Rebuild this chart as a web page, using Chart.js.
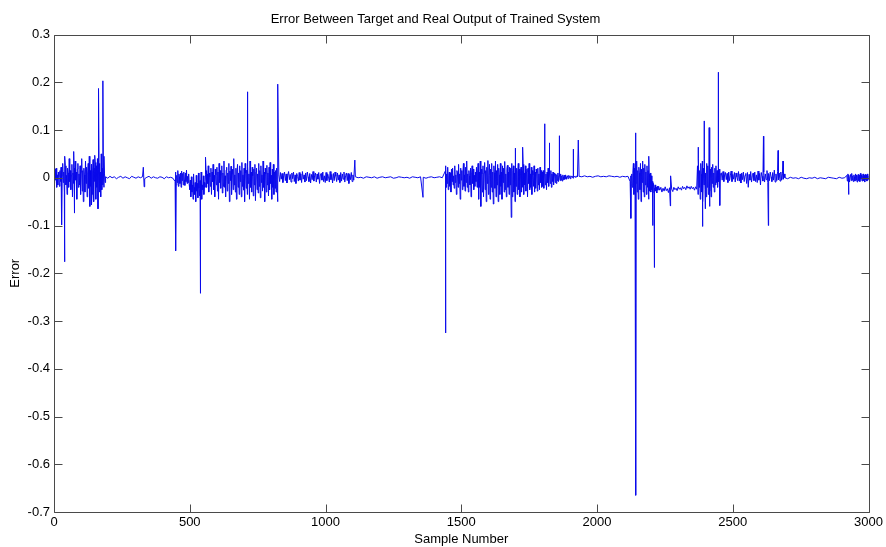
<!DOCTYPE html>
<html>
<head>
<meta charset="utf-8">
<script src="https://cdn.jsdelivr.net/npm/chart.js@4.4.1/dist/chart.umd.min.js"></script>
<style>
  html, body { margin: 0; padding: 0; background: #fff; }
  #wrap { width: 886px; height: 547px; }
</style>
</head>
<body>
<div id="wrap"><canvas id="c" width="886" height="547"></canvas></div>
<script>
// Axis ticks
const xTicks = [0, 500, 1000, 1500, 2000, 2500, 3000];
const yTicks = [0.3, 0.2, 0.1, 0, -0.1, -0.2, -0.3, -0.4, -0.5, -0.6, -0.7];

// Error trace, stretch by stretch: [first sample, sample spacing, values]
const burstA = [0.01,-0.012,0.018,-0.005,0.02,-0.02,0.006,-0.015,0.012,0.002,-0.018,0.015,-0.008,0.022,-0.025,0.004,
  0.03,-0.01,0.012,-0.03,0.008,0.025,-0.015,0.005,-0.035,0.02,0.01,-0.02,0.04,-0.008,0.015,-0.025,
  0.006,0.028,-0.04,0.01,-0.012,0.02,-0.03,0.035,-0.005,0.012,-0.045,0.018,0.03,-0.02,0.008,-0.015,
  0.025,-0.035,0.012,0.04,-0.028,0.015,-0.05,0.02,0.006,-0.03,0.035,-0.012,0.022,-0.04,0.01,0.03,
  -0.022,0.045,-0.06,0.015,-0.018,0.028,-0.035,0.012,0.038,-0.05,0.02,-0.008,0.032,-0.045,0.025,-0.02,
  0.04,-0.065,0.018,0.03,-0.03,0.012,-0.04,0.05,-0.025,0.02,-0.015,0.01,-0.02,0.008,-0.01];
const quietA = [0.002,-0.001,0.003,0,0.002,-0.002,0.001,0.003,-0.001,0.002,0,-0.002,0.003,0.001,-0.001,0.002,0,0.002,-0.002,0.001,0.003,-0.001,0.002,0,-0.001,0.002,0.001,-0.002,0.002,0,0.001,-0.001];
const burstB = [-0.008,0.012,-0.015,0.005,-0.01,0.015,-0.018,0.008,0.002,-0.012,0.01,-0.02,0.014,-0.006,0.009,-0.015,0.012,-0.004,-0.016,0.01,-0.008,0.016,-0.012,0.003,-0.01,0.008,-0.014,
  -0.025,-0.005,-0.04,0.002,-0.03,-0.015,-0.045,0.008,-0.02,-0.035,-0.01,-0.05,0.005,-0.028,-0.012,-0.042,0.01,-0.022,-0.038,-0.006,-0.03,0.012,-0.045,-0.015,-0.025,0.004,-0.035,-0.01,-0.02,0.006,
  0.015,-0.02,0.008,-0.012,0.025,-0.03,0.01,0.002,-0.018,0.02,-0.035,0.012,-0.008,0.028,-0.025,0.005,
  -0.04,0.018,0.006,-0.015,0.022,-0.028,0.012,-0.045,0.03,-0.01,0.015,-0.022,0.008,0.025,-0.032,0.01,
  -0.018,0.035,-0.02,0.004,-0.04,0.016,0.022,-0.028,0.01,-0.012,0.03,-0.05,0.014,-0.006,0.024,-0.035,
  0.008,0.018,-0.025,0.04,-0.015,0.006,-0.03,0.02,-0.045,0.012,0.028,-0.02,0.01,-0.035,0.025,-0.008,
  0.015,-0.04,0.032,-0.018,0.006,-0.026,0.02,-0.05,0.03,0.01,-0.022,0.016,-0.035,0.024,-0.012,0.008,
  -0.045,0.035,-0.02,0.012,-0.03,0.022,0.004,-0.038,0.018,-0.015,0.028,-0.048,0.012,0.02,-0.025,0.008,
  -0.032,0.03,-0.018,0.015,-0.042,0.025,-0.01,0.006,-0.028,0.035,-0.02,0.012,-0.05,0.02,0.008,-0.03,
  0.026,-0.015,0.01,-0.038,0.022,-0.025,0.032,-0.012,0.005,-0.045,0.018,-0.02,0.028,-0.035,0.012,-0.022,
  0.015,-0.03,0.02,-0.015,0.01];
const burstC = [0.006,-0.008,0.011,-0.003,0.009,-0.01,0.004,0.012,-0.006,0.008,-0.011,0.005,0.013,-0.004,0.007,-0.009,
  0.01,-0.002,0.012,-0.008,0.006,-0.012,0.009,0.003,-0.007,0.011,-0.005,0.008,-0.01,0.013,-0.003,0.006,
  -0.009,0.01,-0.006,0.012,0.002,-0.008,0.009,-0.011,0.007,-0.004,0.013,-0.007,0.005,0.01,-0.009,0.008,
  -0.003,0.011,-0.012,0.006,0.009,-0.005,0.012,-0.008,0.004,-0.01,0.011,-0.006,0.008,0.002,-0.009,0.013,
  -0.004,0.007,-0.011,0.009,-0.006,0.012,0.003,-0.008,0.01,-0.005,0.006,-0.01,0.011,-0.007,0.008,-0.003,
  0.012,-0.009,0.005,0.01,-0.006,0.009,-0.012,0.007,-0.004,0.011,-0.008,0.006,-0.005];
const quietB = [0.002,0,0.001,-0.001,0.002,0.001,0,0.002,-0.001,0.001,0.002,0,0.001,0.002,-0.001,0,0.002,0.001,0,0.001,-0.001,0.002,0.001,0,0.002,0.001,-0.001,0.001,0.002,0,0.001,0.002,0];
const burstD = [0.015,-0.02,0.008,-0.012,0.022,-0.025,0.005,0.012,-0.018,0.01,-0.03,0.018,-0.008,0.02,-0.015,0.004,
  -0.022,0.025,-0.01,0.006,-0.035,0.015,0.01,-0.02,0.028,-0.012,0.008,-0.045,0.02,-0.005,0.015,-0.025,
  0.012,0.03,-0.018,0.006,-0.028,0.022,-0.01,0.035,-0.02,0.008,-0.03,0.015,0.004,-0.015,0.02,-0.04,
  0.01,0.025,-0.012,0.018,-0.025,0.005,-0.018,0.012,-0.008,0.022,-0.02,0.01,
  0.03,-0.045,0.012,-0.02,0.035,-0.06,0.018,0.008,-0.03,0.025,-0.04,0.01,0.032,-0.025,0.015,-0.05,
  0.022,-0.012,0.036,-0.035,0.005,0.028,-0.045,0.018,-0.02,0.03,-0.03,0.012,-0.055,0.025,0.01,-0.022,
  0.035,-0.04,0.015,-0.015,0.028,-0.05,0.02,0.006,-0.035,0.03,-0.018,0.012,-0.045,0.025,-0.01,0.02,
  -0.03,0.034,-0.025,0.008,-0.04,0.018,0.026,-0.02,0.012,-0.035,0.022,-0.015,
  0.02,-0.083,0.03,-0.04,0.015,0.025,-0.03,0.01,-0.05,0.028,-0.018,0.02,-0.035,0.012,0.03,-0.025,
  0.018,-0.04,0.008,0.022,-0.03,0.015,-0.02,0.028,-0.035,0.01,-0.015,0.025,-0.028,0.012,0.018,-0.04,
  0.02,-0.012,0.03,-0.025,0.008,-0.02,0.022,-0.035,0.015,0.006,-0.018,0.025,-0.03,0.012,-0.022,0.018,
  0.01,-0.028,0.02,-0.015,0.008,-0.025,0.022,-0.01,0.015,-0.02,0.012,-0.018,
  0.015,-0.022,0.01,0.018,-0.015,0.008,-0.025,0.012,-0.01,0.02,-0.018,0.006,0.012,-0.012,0.015,-0.02,
  0.008,-0.008,0.012,-0.015,0.005,0.01,-0.01,0.008,-0.012,0.006,-0.006,0.01,-0.008,0.004,0.007,-0.006,
  0.008,-0.005,0.004,-0.007,0.006,0.002,-0.004,0.005,-0.003,0.006,0.001,-0.003,0.004,0.002,-0.002,0.005,
  0.001,0.003,-0.002,0.004,0.002,0.001,0.003,-0.001,0.004,0.002,0.003,0.001,0.003,0.002,0.004,0.002];
const quietC = [0.003,0.002,0.004,0.002,0.003,0.001,0.003,0.004,0.002,0.003,0.002,0.004,0.003,0.002,0.003,0.001,0.003,0.002,0.003];
const burstE = [-0.008,0.004,-0.015,0.008,-0.02,0.012,0.03,-0.035,0.02,-0.04,0.025,-0.012,0.035,-0.03,0.015,-0.045,
  0.022,0.01,-0.025,0.03,-0.05,0.018,-0.01,0.035,-0.03,0.02,-0.04,0.028,-0.015,0.012,-0.035,0.025,
  -0.02,0.015,-0.045,0.008,-0.028,0.01,-0.03,0.004,-0.025,-0.008,-0.032,-0.012,-0.022,-0.03,-0.015,-0.028,
  -0.02,-0.032,-0.018,-0.026];
const offsetF = [-0.018,-0.026,-0.02,-0.03,-0.022,-0.028,-0.019,-0.027,-0.023,-0.031,-0.021,-0.026,-0.024,-0.029,-0.02,-0.025,-0.022,-0.027,-0.019,-0.024,-0.021,-0.026,-0.018,-0.023,-0.02,-0.025,-0.017,-0.022,-0.019,-0.024,-0.018,-0.023,-0.02,-0.026,-0.019,-0.024];
const burstG = [0.025,-0.035,0.04,-0.02,0.015,-0.045,0.03,0.008,-0.03,0.035,-0.05,0.02,-0.015,0.04,-0.025,0.01,
  -0.04,0.03,-0.02,0.025,-0.035,0.012,0.03,-0.028,0.018,-0.04,0.022,-0.012,0.028,-0.02,0.01,-0.03,
  0.02,-0.015,0.025,-0.01,0.015,-0.02,0.012,-0.008,0.018,-0.01,0.008];
const burstH = [0.01,-0.005,0.013,-0.008,0.006,0.011,-0.004,0.009,-0.01,0.012,-0.006,0.004,0.014,-0.008,0.007,-0.003,
  0.011,-0.009,0.01,0.002,-0.006,0.013,-0.007,0.008,-0.011,0.01,-0.004,0.012,-0.008,0.005,0.009,-0.012,
  0.011,-0.02,0.007,-0.005,0.013,-0.009,0.004,0.01,-0.006,0.012,-0.008,0.006,-0.01,0.014,-0.005,0.009,
  -0.015,0.011,0.003,-0.007,0.012,-0.009,0.008,-0.004,0.015,-0.01,0.009,-0.006,0.012,0.002,-0.008,0.011,
  -0.005,0.016,-0.009,0.008,-0.006,0.013,-0.004,0.01,-0.007,0.012,-0.005,0.009,-0.003,0.008];
const quietI = [0,-0.002,0.001,-0.001,0,-0.002,0.001,-0.001,-0.002,0,-0.001,0.001,-0.002,0,-0.001,-0.002,0.001,0,-0.001,-0.002,0.001,-0.001,0];
const burstJ = [0.005,-0.007,0.008,-0.004,0.006,-0.009,0.003,0.007,-0.006,0.009,-0.005,0.004,-0.008,0.006,0.002,-0.007,
  0.008,-0.005,0.006,-0.009,0.004,0.007,-0.006,0.005,-0.008,0.009,-0.003,0.006,-0.007,0.004,0.008,-0.006,
  0.005,-0.009,0.007,-0.004,0.006,-0.007,0.008,-0.005,0.004];

const stretches = [
  [0, 2, burstA], [190, 8, quietA], [446, 2, burstB], [828, 3, burstC],
  [1110, 10, quietB], [1442, 2, burstD], [1934, 10, quietC], [2122, 2, burstE],
  [2227, 4, offsetF], [2370, 2, burstG], [2458, 3, burstH], [2692, 10, quietI],
  [2920, 2, burstJ]
];

// Isolated large excursions: sample number and error
const spikeSamples = [28, 38, 40, 73, 75, 138, 150, 164, 180, 184, 329, 332,
  448, 539, 558, 712, 823, 825, 1108, 1359, 1442, 1443, 1699, 1726, 1807, 1824,
  1861, 1912, 1931, 2125, 2142, 2143, 2191, 2205, 2211, 2270, 2271,
  2372, 2388, 2394, 2398, 2413, 2415, 2446, 2452, 2613, 2631, 2667, 2685, 2926];
const spikeValues = [-0.099, -0.176, 0.045, 0.055, -0.074, -0.057, 0.047, 0.187, 0.203, 0.045, 0.022, -0.019,
  -0.153, -0.242, 0.043, 0.18, -0.05, 0.196, 0.037, -0.041, -0.325, 0.025, 0.062, 0.064, 0.113, 0.073,
  0.088, 0.06, 0.079, -0.085, 0.094, -0.665, 0.045, -0.1, -0.188, -0.059, 0.004,
  0.064, -0.102, 0.119, -0.065, 0.105, -0.06, 0.221, -0.058, 0.087, -0.1, 0.057, 0.035, -0.035];

const points = [];
stretches.forEach(([start, step, vals]) => {
  vals.forEach((v, i) => points.push({ x: start + i * step, y: v }));
});
spikeSamples.forEach((s, i) => points.push({ x: s, y: spikeValues[i] }));
points.sort((a, b) => a.x - b.x);

const FONT = 'Liberation Sans, Arial, Helvetica, sans-serif';
const AXIS_COLOR = '#4a4a4a';

// Boxed axes with inward tick marks on all four sides
const boxAxes = {
  id: 'boxAxes',
  afterDraw(chart) {
    const { ctx, chartArea: a, scales } = chart;
    const L = Math.round(a.left) + 0.5, R = Math.round(a.right) + 0.5;
    const T = Math.round(a.top) + 0.5, B = Math.round(a.bottom) + 0.5;
    const len = 8;
    ctx.save();
    ctx.strokeStyle = AXIS_COLOR;
    ctx.lineWidth = 1;
    ctx.beginPath();
    ctx.rect(L, T, R - L, B - T);
    scales.x.ticks.forEach(t => {
      const px = Math.round(scales.x.getPixelForValue(t.value)) + 0.5;
      ctx.moveTo(px, B); ctx.lineTo(px, B - len);
      ctx.moveTo(px, T); ctx.lineTo(px, T + len);
    });
    scales.y.ticks.forEach(t => {
      const py = Math.round(scales.y.getPixelForValue(t.value)) + 0.5;
      ctx.moveTo(L, py); ctx.lineTo(L + len, py);
      ctx.moveTo(R, py); ctx.lineTo(R - len, py);
    });
    ctx.stroke();
    ctx.restore();
  }
};

new Chart(document.getElementById('c'), {
  type: 'line',
  data: {
    datasets: [{
      data: points,
      parsing: false,
      borderColor: 'rgb(10,10,235)',
      borderWidth: 1,
      pointRadius: 0,
      tension: 0,
      fill: false
    }]
  },
  options: {
    responsive: false,
    animation: false,
    events: [],
    layout: { padding: { left: 0, right: 15, top: 0, bottom: 0 } },
    plugins: {
      legend: { display: false },
      tooltip: { enabled: false },
      title: {
        display: true,
        text: 'Error Between Target and Real Output of Trained System',
        color: '#000',
        font: { family: FONT, size: 13, weight: 'normal' },
        padding: { top: 11.5, bottom: 7.4 }
      }
    },
    scales: {
      x: {
        type: 'linear',
        min: 0, max: 3000,
        afterBuildTicks: s => { s.ticks = xTicks.map(v => ({ value: v })); },
        afterFit: s => { s.height = 35; },
        grid: { display: false, drawTicks: false },
        border: { display: false },
        ticks: { color: '#000', padding: 3, maxRotation: 0, font: { family: FONT, size: 13 },
                 callback: v => String(v) },
        title: { display: true, text: 'Sample Number', color: '#000',
                 font: { family: FONT, size: 13 }, padding: { top: 0, bottom: 0 } }
      },
      y: {
        type: 'linear',
        min: -0.7, max: 0.3,
        afterBuildTicks: s => { s.ticks = yTicks.map(v => ({ value: v })); },
        afterFit: s => { s.width = 54; },
        grid: { display: false, drawTicks: false },
        border: { display: false },
        ticks: { color: '#000', padding: 4, font: { family: FONT, size: 13 },
                 callback: v => String(Math.round(v * 10) / 10) },
        title: { display: true, text: 'Error', color: '#000',
                 font: { family: FONT, size: 13 }, padding: { top: 8, bottom: 0 } }
      }
    }
  },
  plugins: [boxAxes]
});
</script>
</body>
</html>
